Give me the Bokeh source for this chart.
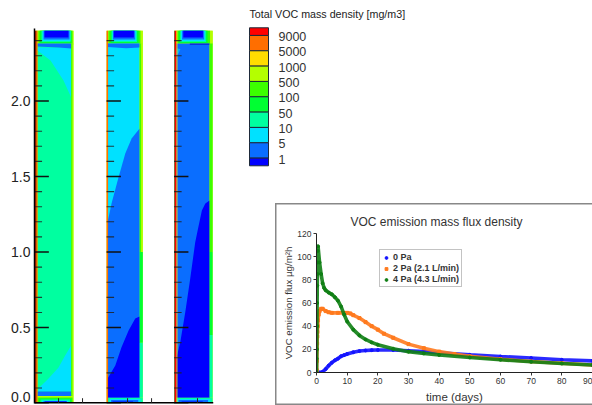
from bokeh.plotting import figure
from bokeh.layouts import row, column
from bokeh.models import (Spacer, FixedTicker, Legend, LegendItem, Range1d)
from bokeh.core.properties import value
from bokeh.embed import file_html
from bokeh.resources import INLINE

FONT = "Liberation Sans"

# ---------- colour scale ----------
level_labels = ["9000", "5000", "1000", "500", "100", "50", "10", "5", "1"]
level_edges = [9.0, 8.5, 7.5, 6.5, 5.5, 4.5, 3.5, 2.5, 1.5, 0.5, 0.0]
level_colors = ["#ff0000", "#ff6e00", "#ffdc00", "#b4ff00", "#3cff00",
                "#00ff32", "#00ffa0", "#00e1ff", "#0a6eff", "#0000ff"]
RED, ORANGE, YEL, YG, GR, LIME, AQUA, CYAN, BLUE, DBLUE = level_colors

# ---------- contour panels (metres) ----------
panel_origin = [0.0, 0.477, 0.924]
panel_width = [0.258, 0.240, 0.256]
panel_top = 2.465
field_left = [0.020, 0.007, 0.013]
field_right = [0.243, 0.219, 0.235]
field_top = 2.381
field_bottom = [0.046, 0.036, 0.036]
field_color = [AQUA, CYAN, BLUE]

cap_colors = [YG, GR, LIME, AQUA, CYAN, BLUE, DBLUE]
cap_y = [2.374, 2.381, 2.384, 2.391, 2.397, 2.407, 2.421]
cap_left = [[.013, .026, .036, .046, .053, .060, .066],
            [.007, .013, .026, .033, .040, .043, .048],
            [.010, .020, .030, .040, .046, .053, .061]]
cap_right = [[.258, .252, .245, .238, .238, .232, .225],
             [.240, .225, .212, .202, .195, .189, .181],
             [.255, .238, .222, .212, .205, .199, .191]]

base_colors = [[YG, GR, LIME, AQUA, CYAN, BLUE, DBLUE],
               [AQUA, CYAN, BLUE, DBLUE],
               [AQUA, CYAN, BLUE, DBLUE]]
base_y = [[.046, .036, .030, .023, .017, .013, .010],
          [.036, .027, .020, .010],
          [.036, .027, .020, .010]]
base_left = [[.013, .020, .030, .040, .050, .060, .070],
             [.007, .020, .030, .040],
             [.010, .020, .030, .050]]
base_right = [[.258, .252, .245, .235, .225, .215, .210],
              [.240, .225, .210, .175],
              [.255, .240, .225, .190]]

# right wall bands: panel, x0, x1, y0, y1, colour
wall_panel = [0, 0, 1, 1, 1, 1, 2, 2, 2]
wall_x0 = [.243, .252, .219, .230, .219, .219, .235, .235, .235]
wall_x1 = [.252, .258, .230, .240, .240, .240, .255, .255, .255]
wall_y0 = [.046, .046, 1.0, 1.0, .40, .036, 1.0, .45, .036]
wall_y1 = [2.38, 2.38, 2.38, 2.38, 1.0, .40, 2.38, 1.0, .45]
wall_color = [GR, YG, GR, YG, LIME, AQUA, GR, LIME, AQUA]

# left wall strips
strip_panel = [0, 0, 1, 2, 2, 2]
strip_x0 = [.004, .014, .000, .000, .005, .016]
strip_x1 = [.014, .020, .010, .005, .016, .022]
strip_color = ["#c00000", ORANGE, ORANGE, "#555555", RED, YEL]

# iso-regions
p1_top_x = [.020, .106, .192, .243, .243, .020]
p1_top_y = [2.334, 2.268, 2.136, 2.023, 2.354, 2.354]
p1_low_x = [.026, .093, .159, .203, .243, .243, .026]
p1_low_y = [.096, .162, .235, .315, .381, .076, .076]
p1_band_hi_x = [.020, .243, .243, .160, .020]
p1_band_hi_y = [2.381, 2.381, 2.348, 2.354, 2.361]
p1_band_lo_x = [.020, .243, .243, .020]
p1_band_lo_y = [.076, .076, .046, .046]

p2_b1_x = [.007, .033, .079, .124, .166, .219, .219, .007]
p2_b1_y = [1.197, 1.321, 1.493, 1.652, 1.752, 1.818, .036, .036]
p2_b2_x = [.007, .058, .099, .146, .190, .219, .219, .007]
p2_b2_y = [.162, .248, .370, .480, .560, .573, .036, .036]
p2_band_x = [.007, .219, .219, .130, .007]
p2_band_y = [2.381, 2.381, 2.355, 2.350, 2.358]

p3_b2_x = [.015, .041, .074, .107, .140, .156, .184, .207, .235, .235, .015]
p3_b2_y = [.295, .403, .601, .825, 1.065, 1.142, 1.275, 1.321, 1.341, .036, .036]
p3_line_x = [.104, .235, .235, .104]
p3_line_y = [2.381, 2.381, 2.370, 2.370]
p3_spot_x = [.014, .042, .030, .014]
p3_spot_y = [2.350, 2.345, 2.315, 2.310]

major_ticks = [0.0, 0.5, 1.0, 1.5, 2.0]
major_names = ["0.0", "0.5", "1.0", "1.5", "2.0"]
minor_ticks = [0.1, 0.2, 0.3, 0.4, 0.6, 0.7, 0.8, 0.9, 1.1, 1.2, 1.3, 1.4,
               1.6, 1.7, 1.8, 1.9, 2.1, 2.2, 2.3, 2.4]
bottom_ticks = [0.159, 0.318, 0.616, 0.775, 1.079]
bottom_span = [0.0, 1.185]

# ---------- emission curves ----------
t_0pa = [0, 1, 1.5, 2, 3, 4, 5, 6, 7, 8, 9, 10, 12, 14, 16, 18, 20, 25, 30, 35, 40, 50, 60, 70, 80, 90]
f_0pa = [0, 0, 0, 0.5, 3, 6, 8.5, 10.5, 12, 14, 15, 16, 17.5, 18.5, 19, 19.3, 19.4, 19.4, 18.8, 18, 17, 15.3, 13.8, 12.5, 11, 10]
t_2pa = [0, 0.05, 0.1, 0.15, 0.2, 0.25, 0.3, 0.4, 0.5, 0.7, 1, 1.5, 2, 3, 4, 5, 7, 9, 10, 11, 12, 14, 16, 18, 20, 22, 25, 30, 35, 40, 45, 50, 60, 70, 80, 90]
f_2pa = [0, 2, 10, 20, 25, 31, 35, 40, 45, 50, 53, 55, 55, 53, 52, 51.5, 51.5, 51.5, 51.5, 51, 49.5, 47, 43.5, 40, 37, 33.5, 30, 24.5, 21, 18, 16, 14, 11.5, 9.5, 8, 6.5]
t_4pa = [0, 0.05, 0.1, 0.15, 0.2, 0.25, 0.3, 0.35, 0.4, 0.5, 1, 1.5, 2, 2.5, 3, 4, 5, 6, 7, 8, 9, 10, 12, 14, 16, 18, 20, 25, 30, 35, 40, 50, 60, 70, 80, 90]
f_4pa = [0, 12, 20, 40, 60, 75, 85, 95, 105, 109, 95, 85, 77, 73, 71, 69, 67.5, 65, 62, 57, 50, 44, 37, 32, 28.5, 26, 24, 20.5, 18, 16.5, 15.2, 13, 11, 9.3, 7.8, 6.5]
series_names = ["0 Pa", "2 Pa (2.1 L/min)", "4 Pa (4.3 L/min)"]
series_colors = ["#1414ff", "#ff7a1e", "#0f7f14"]
y_ticks = [0, 20, 40, 60, 80, 100, 120]
x_ticks = [0, 10, 20, 30, 40, 50, 60, 70, 80, 90]

# ---------- left: three contour panels ----------
left = figure(width=248, height=405, output_backend="svg", toolbar_location=None,
              x_range=Range1d(*bottom_span), y_range=Range1d(-0.003, 2.48),
              min_border_left=34, min_border_right=35, min_border_top=28, min_border_bottom=2,
              outline_line_color=None, background_fill_color="white")
left.grid.visible = False
left.xaxis.visible = False
label_at = [0.04] + major_ticks[1:]
left.yaxis.ticker = FixedTicker(ticks=label_at)
left.yaxis.major_label_overrides = dict(zip(label_at, major_names))
left.yaxis.major_tick_out = 0
left.yaxis.major_tick_in = 0
left.yaxis.minor_tick_out = 0
left.yaxis.major_label_standoff = 4
left.yaxis.major_label_text_font = FONT
left.yaxis.major_label_text_font_size = "14px"
left.yaxis.major_label_text_color = "#222222"
left.yaxis.axis_line_color = "black"
left.yaxis.axis_line_width = 1.5


def rect(p, x0, x1, y0, y1, c):
    p.quad(left=x0, right=x1, bottom=y0, top=y1, fill_color=c, line_color=None)


def poly(p, o, xs, ys, c):
    p.patch([o + v for v in xs], list(ys), fill_color=c, line_color=None)


for i, o in enumerate(panel_origin):
    rect(left, o, o + panel_width[i], 0.0, panel_top, YG)
    for c, y, a, b in zip(cap_colors, cap_y, cap_left[i], cap_right[i]):
        rect(left, o + a, o + b, y, panel_top, c)
    for c, y, a, b in zip(base_colors[i], base_y[i], base_left[i], base_right[i]):
        rect(left, o + a, o + b, 0.0, y, c)
    rect(left, o + field_left[i], o + field_right[i], field_bottom[i], field_top, field_color[i])

o = panel_origin[0]
poly(left, o, p1_top_x, p1_top_y, CYAN)
poly(left, o, p1_low_x, p1_low_y, CYAN)
poly(left, o, p1_band_hi_x, p1_band_hi_y, BLUE)
poly(left, o, p1_band_lo_x, p1_band_lo_y, BLUE)
o = panel_origin[1]
poly(left, o, p2_b1_x, p2_b1_y, BLUE)
poly(left, o, p2_b2_x, p2_b2_y, DBLUE)
poly(left, o, p2_band_x, p2_band_y, BLUE)
o = panel_origin[2]
poly(left, o, p3_b2_x, p3_b2_y, DBLUE)
poly(left, o, p3_line_x, p3_line_y, "#0a32e0")
poly(left, o, p3_spot_x, p3_spot_y, "#00b4ff")

for k, x0, x1, y0, y1, c in zip(wall_panel, wall_x0, wall_x1, wall_y0, wall_y1, wall_color):
    rect(left, panel_origin[k] + x0, panel_origin[k] + x1, y0, y1, c)
for k, x0, x1, c in zip(strip_panel, strip_x0, strip_x1, strip_color):
    rect(left, panel_origin[k] + x0, panel_origin[k] + x1, 0.0, panel_top, c)

for o in panel_origin:
    left.segment(x0=[o] * len(major_ticks), x1=[o + 0.095] * len(major_ticks),
                 y0=major_ticks, y1=major_ticks, line_color="#111111", line_width=1.6)
    left.segment(x0=[o] * len(minor_ticks), x1=[o + 0.05] * len(minor_ticks),
                 y0=minor_ticks, y1=minor_ticks, line_color="#222222", line_width=1.1, line_alpha=0.85)

left.line(bottom_span, [0, 0], line_color="black", line_width=2.2)
left.segment(x0=bottom_ticks, x1=bottom_ticks, y0=[0] * len(bottom_ticks), y1=[0.032] * len(bottom_ticks),
             line_color="#222222", line_width=1)

# ---------- top right: colour key ----------
key = figure(width=344, height=203, output_backend="svg", toolbar_location=None,
             x_range=Range1d(0, 344), y_range=Range1d(-2.46, 10.78),
             min_border=0, outline_line_color=None)
key.axis.visible = False
key.grid.visible = False
key.quad(left=1, right=20, top=level_edges[:-1], bottom=level_edges[1:],
         fill_color=level_colors, line_color="#1e2a3a", line_width=1)
key.text(x=[30] * len(level_labels), y=[e - 0.06 for e in level_edges[1:-1]], text=level_labels,
         text_font=value(FONT), text_font_size="12.5px", text_color="#333333",
         text_baseline="middle", text_align="left")
key.text(x=[1], y=[9.87], text=["Total VOC mass density [mg/m3]"],
         text_font=value(FONT), text_font_size="10.7px", text_color="#222222",
         text_baseline="middle", text_align="left")

# ---------- bottom right: emission chart ----------
chart = figure(width=317, height=202, output_backend="svg", toolbar_location=None,
               x_range=Range1d(0, 90), y_range=Range1d(0, 120),
               min_border_left=41, min_border_right=0, min_border_top=30, min_border_bottom=33,
               outline_line_color=None, border_fill_color=None, background_fill_color=None,
               styles={"box-shadow": "inset 1.5px 0 0 #888888, inset 0 1.5px 0 #888888, inset 0 -1.5px 0 #888888"})
chart.grid.visible = False
chart.title.text = "VOC emission  mass flux density"
chart.title.text_font = FONT
chart.title.text_font_style = "normal"
chart.title.text_font_size = "12px"
chart.title.text_color = "#333333"
chart.title.align = "left"
chart.title.offset = 34
chart.xaxis.axis_label = "time (days)"
chart.yaxis.axis_label = "VOC emission flux \u00b5g/m\u00b2h"
for ax in (chart.xaxis[0], chart.yaxis[0]):
    ax.axis_label_text_font = FONT
    ax.axis_label_text_font_style = "normal"
    ax.axis_label_text_color = "#333333"
    ax.major_label_text_font = FONT
    ax.major_label_text_font_size = "8.5px"
    ax.major_label_text_color = "#333333"
    ax.major_tick_in = 0
    ax.major_tick_out = 3
    ax.minor_tick_out = 0
    ax.axis_line_color = "#222222"
    ax.major_tick_line_color = "#333333"
    ax.major_label_standoff = 2
chart.xaxis.axis_label_text_font_size = "11.5px"
chart.xaxis.axis_label_standoff = 4
chart.yaxis.axis_label_text_font_size = "9.7px"
chart.yaxis.axis_label_standoff = 0
chart.xaxis.ticker = FixedTicker(ticks=x_ticks)
chart.yaxis.ticker = FixedTicker(ticks=y_ticks)

items = []
for name, c, t, f in zip(series_names, series_colors, [t_0pa, t_2pa, t_4pa], [f_0pa, f_2pa, f_4pa]):
    chart.line(t, f, line_color=c, line_width=3.6, line_alpha=0.9)
    r = chart.scatter(t, f, size=3, fill_color=c, line_color=c, marker="circle" if c != "#ff7a1e" else "square")
    items.append(LegendItem(label=name, renderers=[r]))

legend = Legend(items=items, location=(63, 85), orientation="vertical",
                label_text_font=FONT, label_text_font_size="9px", label_text_font_style="bold",
                label_text_color="#333333", glyph_width=8, glyph_height=7, label_height=8,
                label_standoff=3, spacing=1, padding=2, margin=0,
                border_line_color="#888888", border_line_width=1.5, background_fill_alpha=1)
chart.add_layout(legend, "center")

page = row(left, column(key, row(Spacer(width=27, height=202), chart)))
open("out.html", "w").write(file_html(page, INLINE))
